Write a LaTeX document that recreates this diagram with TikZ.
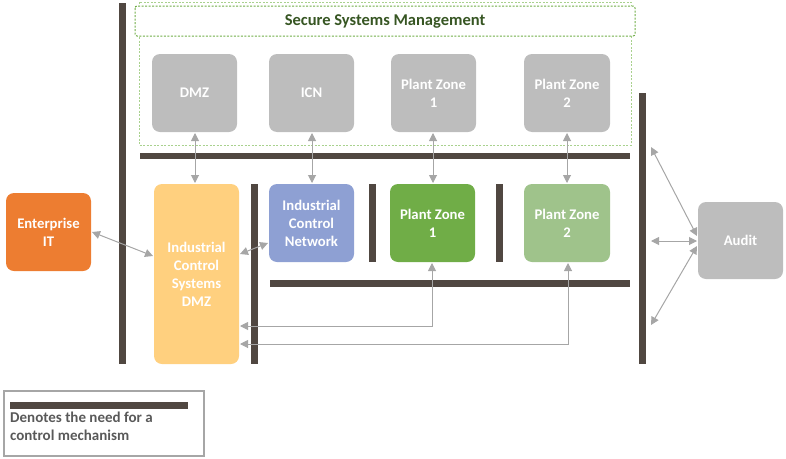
\documentclass[tikz,border=0pt]{standalone}
\usepackage{fontspec}
\setmainfont{Carlito}
\usetikzlibrary{arrows.meta}
\definecolor{barc}{HTML}{504741}
\definecolor{grayb}{HTML}{BDBDBD}
\definecolor{arrc}{HTML}{A6A6A6}
\definecolor{orangeb}{HTML}{ED7D31}
\definecolor{yellowb}{HTML}{FFD07F}
\definecolor{blueb}{HTML}{8EA0D3}
\definecolor{greenb}{HTML}{70AD47}
\definecolor{lgreenb}{HTML}{9FC38B}
\definecolor{dashg}{HTML}{A9D18E}
\definecolor{dgreent}{HTML}{375623}
\definecolor{legt}{HTML}{595959}
\begin{document}
\begin{tikzpicture}[x=1pt,y=-1pt,
  box/.style={rounded corners=8pt,draw=none,font=\fontsize{14.7}{18}\selectfont\bfseries,text=white,align=center},
  bar/.style={fill=barc,draw=none},
  conn/.style={draw=arrc,line width=1pt,{Triangle[length=8pt,width=8pt]}-{Triangle[length=8pt,width=8pt]}},
]
\useasboundingbox (0,0) rectangle (786,458);
% dashed management frames
\draw[dashg,line width=0.8pt,dash pattern=on 2pt off 1.5pt] (139,2) rectangle (631,145);
\fill[white] (135,6) rectangle (635,36);
\draw[greenb,line width=1pt,dash pattern=on 2pt off 1.5pt,rounded corners=2pt] (135,6) rectangle (635,36);
\node[font=\fontsize{16.5}{20}\selectfont\bfseries,text=dgreent] (ssm) at (385,21) {Secure Systems Management};
% bars
\fill[bar] (119,3) rectangle (126,364);
\fill[bar] (140,153) rectangle (630,159);
\fill[bar] (251,184) rectangle (258,364);
\fill[bar] (369,184) rectangle (376,262);
\fill[bar] (496,184) rectangle (503,262);
\fill[bar] (270,280) rectangle (630,287);
\fill[bar] (639,93) rectangle (646,364);
% top gray boxes
\fill[grayb,rounded corners=8pt] (152,54) rectangle (237,132);
\node[box] (dmz) at (194.5,93) {DMZ};
\fill[grayb,rounded corners=8pt] (269,54) rectangle (354,132);
\node[box] (icn) at (311.5,93) {ICN};
\fill[grayb,rounded corners=8pt] (391,54) rectangle (476,132);
\node[box] (pz1t) at (433.5,93) {Plant Zone\\1};
\fill[grayb,rounded corners=8pt] (524,54) rectangle (610,132);
\node[box] (pz2t) at (567,93) {Plant Zone\\2};
% bottom boxes
\fill[orangeb,rounded corners=8pt] (6,193) rectangle (91,271);
\node[box] (ent) at (48.5,232) {Enterprise\\IT};
\fill[yellowb,rounded corners=8pt] (154,184) rectangle (239,364);
\node[box] (ics) at (196.5,274) {Industrial\\Control\\Systems\\DMZ};
\fill[blueb,rounded corners=8pt] (269,184) rectangle (354,262);
\node[box] (icnb) at (311.5,223) {Industrial\\Control\\Network};
\fill[greenb,rounded corners=8pt] (390,184) rectangle (475,262);
\node[box] (pz1) at (432.5,223) {Plant Zone\\1};
\fill[lgreenb,rounded corners=8pt] (524,184) rectangle (610,262);
\node[box] (pz2) at (567,223) {Plant Zone\\2};
\fill[grayb,rounded corners=8pt] (698,202) rectangle (783,279);
\node[box] (audit) at (740.5,240.5) {Audit};
% coordinates
\coordinate (dmzb) at (195,133); \coordinate (icsT) at (195,183);
\coordinate (icnb1) at (312,133); \coordinate (icnT) at (312,183);
\coordinate (pz1b) at (433,133); \coordinate (pz1T) at (433,183);
\coordinate (pz2b) at (567,133); \coordinate (pz2T) at (567,183);
\coordinate (entR) at (92,232); \coordinate (icsL) at (153,256);
\coordinate (icsR) at (240,254); \coordinate (icnL) at (268,243);
\coordinate (pz1B) at (432,263); \coordinate (icsR1) at (240,326);
\coordinate (pz2B) at (568,263); \coordinate (icsR2) at (240,344);
\coordinate (a1) at (651,147); \coordinate (au1) at (697,236);
\coordinate (a2) at (651,241); \coordinate (au2) at (697,241);
\coordinate (a3) at (651,325); \coordinate (au3) at (697,246);
% connectors
\draw[conn] (dmzb) -- (icsT);
\draw[conn] (icnb1) -- (icnT);
\draw[conn] (pz1b) -- (pz1T);
\draw[conn] (pz2b) -- (pz2T);
\draw[conn] (entR) -- (icsL);
\draw[conn] (icsR) -- (icnL);
\draw[conn] (icsR1) -| (pz1B);
\draw[conn] (icsR2) -| (pz2B);
\draw[conn] (a1) -- (au1);
\draw[conn] (a2) -- (au2);
\draw[conn] (a3) -- (au3);
% legend
\draw[arrc,line width=2pt] (4,391) rectangle (204,456);
\fill[bar] (10,402) rectangle (188,409);
\node[anchor=north west,align=left,inner sep=0pt,font=\fontsize{15}{18}\selectfont\bfseries,text=legt] (leg) at (10,412) {Denotes the need for a\\control mechanism};
\end{tikzpicture}
\end{document}
